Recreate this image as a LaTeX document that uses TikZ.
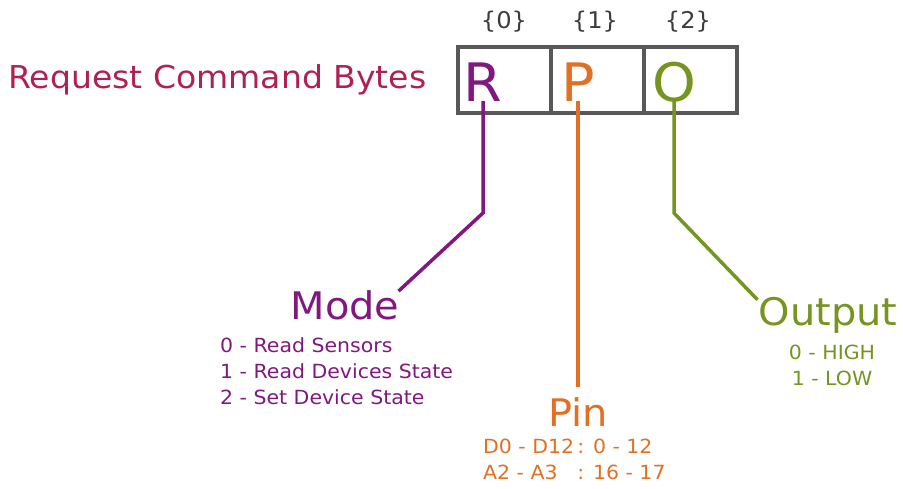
\documentclass[tikz,border=0pt]{standalone}
\usepackage{fontspec}
\setmainfont{DejaVu Sans}[FakeStretch=1.05]
\usepackage{tikz}
\usetikzlibrary{positioning}
\definecolor{rouge}{RGB}{176,32,84}
\definecolor{mauve}{RGB}{128,24,128}
\definecolor{orangep}{RGB}{226,112,36}
\definecolor{olive}{RGB}{118,148,32}
\definecolor{grisf}{RGB}{88,88,88}
\definecolor{grisc}{RGB}{60,60,60}

\begin{document}
\begin{tikzpicture}[x=1pt, y=-1pt,
  cell/.style={draw=grisf, line width=4pt, minimum width=93pt, minimum height=66pt, inner sep=0pt},
  lettre/.style={text=#1, font=\fontsize{53}{53}\selectfont, anchor=base, inner sep=0pt},
  idx/.style={text=grisc, font=\fontsize{23}{23}\selectfont, inner sep=0pt},
  fil/.style={draw=#1, line width=3.5pt},
  titre/.style={text=#1, font=\fontsize{38}{38}\selectfont, inner sep=0pt},
  liste/.style={text=#1, font=\fontsize{19.5}{26}\selectfont, inner sep=0pt}]
\useasboundingbox (0,0) rectangle (903,488);
\node[text=rouge, font=\fontsize{31.5}{31}\selectfont, anchor=west, inner sep=0pt] (req) at (8,80) {Request Command Bytes};
% the three byte cells
\node[cell] (c0) at (504,80) {};
\node[cell, right=-4pt of c0] (c1) {};
\node[cell, right=-4pt of c1] (c2) {};
\node[idx] (i0) at (504,22) {\{0\}};
\node[idx] (i1) at (595,22) {\{1\}};
\node[idx] (i2) at (688,22) {\{2\}};
\node[lettre=mauve] (R) at (483,101) {R};
\node[lettre=orangep] (P) at (578,101) {P};
\node[lettre=olive] (O) at (674,101) {O};
% fields
\node[titre=mauve] (modeT) at (345,305) {Mode};
\node[liste=mauve, align=left, anchor=north west] (modeL) at (220,337) {0 - Read Sensors\\1 - Read Devices State\\2 - Set Device State};
\node[titre=orangep] (pinT) at (578,412) {Pin};
\node[liste=orangep, anchor=north west] (pinL) at (483,435) {\begin{tabular}{@{}l@{}l@{}}D0 - D12\,&: 0 - 12\\A2 - A3&: 16 - 17\end{tabular}};
\node[titre=olive] (outT) at (828,315) {Output};
\node[liste=olive, align=center, anchor=north] (outL) at (832,345) {0 - HIGH\\1 - LOW};
% connectors
\draw[fil=mauve] (R.base) -- ++(0,112) -- ([xshift=-1pt,yshift=-1pt]modeT.north east);
\draw[fil=orangep, shorten >=10pt] (P.base) -- (pinT.north);
\draw[fil=olive] (O.base) -- ++(0,112) -- ([xshift=-1pt,yshift=-3pt]outT.north west);
\end{tikzpicture}
\end{document}
